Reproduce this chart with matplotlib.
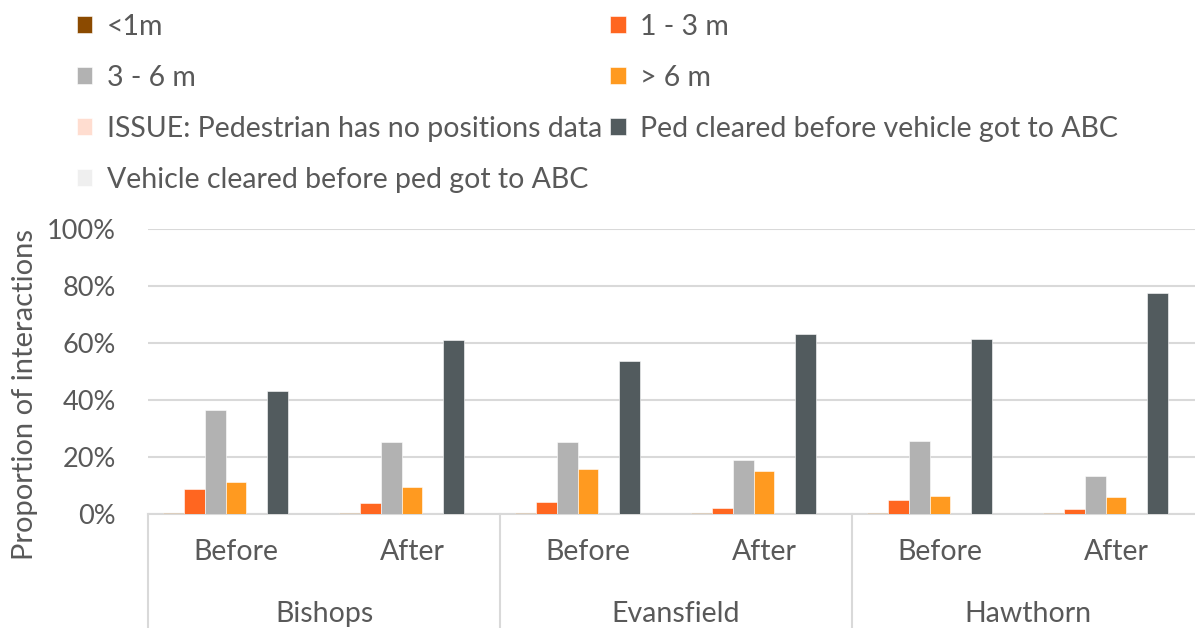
import numpy as np
import matplotlib.pyplot as plt
from matplotlib.transforms import blended_transform_factory

plt.rcParams['font.family'] = ['Lato', 'DejaVu Sans']

# data (proportion of interactions, %)
sites = ['Bishops', 'Evansfield', 'Hawthorn']
periods = ['Before', 'After']
series_names = ['<1m', '1 - 3 m', '3 - 6 m', '> 6 m',
                'ISSUE: Pedestrian has no positions data',
                'Ped cleared before vehicle got to ABC',
                'Vehicle cleared before ped got to ABC']
lt_1m = [0.3, 0.3, 0.3, 0.3, 0.3, 0.3]
m_1_3 = [8.8, 3.7, 4.3, 2.2, 4.9, 1.7]
m_3_6 = [36.4, 25.2, 25.2, 18.9, 25.5, 13.4]
gt_6m = [11.2, 9.6, 15.9, 15.1, 6.4, 6.1]
no_pos = [0, 0, 0, 0, 0, 0]
ped_cleared = [43.0, 61.0, 53.7, 63.0, 61.4, 77.4]
veh_cleared = [0, 0, 0, 0, 0, 0]

colors = ['#8B4A00', '#FF6620', '#B2B2B2', '#FF9A20', '#FFDDD0', '#525B5E', '#EFEFEF']
text_col = '#595959'

values = [lt_1m, m_1_3, m_3_6, gt_6m, no_pos, ped_cleared, veh_cleared]

fig = plt.figure(figsize=(11.95, 6.28), dpi=100)
ax = fig.add_axes([148 / 1195, 114 / 628, 1056 / 1195, 285 / 628])

x = np.arange(len(sites) * len(periods))
w = 0.119
handles = []
for i, (name, vals, c) in enumerate(zip(series_names, values, colors)):
    b = ax.bar(x + (i - 3) * w, np.array(vals) / 100, w, color=c, label=name,
               edgecolor='white', linewidth=0.4, zorder=3)
    handles.append(b)

ax.set_ylim(0, 1)
ax.set_xlim(-0.5, len(x) - 0.5)
ax.set_yticks(np.arange(0, 1.01, 0.2))
ax.set_yticklabels([f'{int(round(v * 100))}%' for v in np.arange(0, 1.01, 0.2)])
ax.tick_params(axis='y', length=0, labelsize=19.5, labelcolor=text_col, pad=23)
ax.set_xticks([])
ax.grid(axis='y', color='#D9D9D9', linewidth=1.5, zorder=0)
for s in ['left', 'right', 'top']:
    ax.spines[s].set_visible(False)
ax.spines['bottom'].set_color('#D9D9D9')
ax.spines['bottom'].set_linewidth(1.5)

# two-level category axis
tr = blended_transform_factory(ax.transData, ax.transAxes)
for xi, p in zip(x, periods * len(sites)):
    ax.text(xi, -0.135, p, transform=tr, ha='center', va='center',
            fontsize=20.5, color=text_col)
for j, s in enumerate(sites):
    ax.text(j * 2 + 0.5, -0.35, s, transform=tr, ha='center', va='center',
            fontsize=20.5, color=text_col)
for b in np.arange(-0.5, len(x), 2):
    ax.plot([b, b], [0, -0.42], transform=tr, color='#D9D9D9', lw=1.5, clip_on=False)

fig.text(25 / 1195, (628 - 394) / 628, 'Proportion of interactions', rotation=90,
         ha='center', va='center', fontsize=21, color=text_col)

order = [0, 2, 4, 6, 1, 3, 5]
leg = fig.legend([handles[k] for k in order], [series_names[k] for k in order],
                 ncol=2, loc='upper left', bbox_to_anchor=(51 / 1195, 1.0 + 12 / 628),
                 frameon=False, fontsize=20.5, handlelength=0.55, handleheight=0.55,
                 handletextpad=0.5, labelspacing=0.88, columnspacing=0.3)
for t in leg.get_texts():
    t.set_color(text_col)

fig.savefig('out.png', dpi=100)
